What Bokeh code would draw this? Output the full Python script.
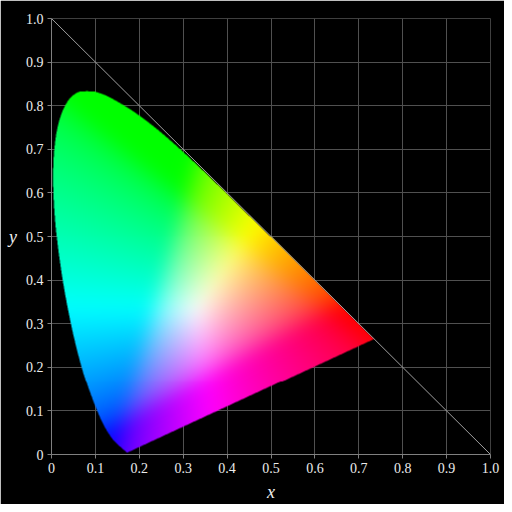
import numpy as np
from bokeh.plotting import figure
from bokeh.models import FixedTicker, Range1d
from bokeh.embed import file_html
from bokeh.resources import INLINE

# CIE 1931 2-degree spectral locus chromaticities (380..700 nm)
wavelengths = [380, 385, 390, 395, 400, 405, 410, 415, 420, 425, 430, 435, 440, 445,
               450, 455, 460, 465, 470, 475, 480, 485, 490, 495, 500, 505, 510, 515,
               520, 525, 530, 535, 540, 545, 550, 555, 560, 565, 570, 575, 580, 585,
               590, 595, 600, 605, 610, 615, 620, 625, 630, 635, 640, 645, 650, 655,
               660, 665, 670, 675, 680, 690, 700]
locus_x = [0.1741, 0.1740, 0.1738, 0.1736, 0.1733, 0.1730, 0.1726, 0.1721, 0.1714, 0.1703,
           0.1689, 0.1669, 0.1644, 0.1611, 0.1566, 0.1510, 0.1440, 0.1355, 0.1241, 0.1096,
           0.0913, 0.0687, 0.0454, 0.0235, 0.0082, 0.0039, 0.0139, 0.0389, 0.0743, 0.1142,
           0.1547, 0.1929, 0.2296, 0.2658, 0.3016, 0.3373, 0.3731, 0.4087, 0.4441, 0.4788,
           0.5125, 0.5448, 0.5752, 0.6029, 0.6270, 0.6482, 0.6658, 0.6801, 0.6915, 0.7006,
           0.7079, 0.7140, 0.7190, 0.7230, 0.7260, 0.7283, 0.7300, 0.7311, 0.7320, 0.7327,
           0.7334, 0.7344, 0.7347]
locus_y = [0.0050, 0.0050, 0.0049, 0.0049, 0.0048, 0.0048, 0.0048, 0.0048, 0.0051, 0.0058,
           0.0069, 0.0086, 0.0109, 0.0138, 0.0177, 0.0227, 0.0297, 0.0399, 0.0578, 0.0868,
           0.1327, 0.2007, 0.2950, 0.4127, 0.5384, 0.6548, 0.7502, 0.8120, 0.8338, 0.8262,
           0.8059, 0.7816, 0.7543, 0.7243, 0.6923, 0.6589, 0.6245, 0.5896, 0.5547, 0.5202,
           0.4866, 0.4544, 0.4242, 0.3965, 0.3725, 0.3514, 0.3340, 0.3197, 0.3083, 0.2993,
           0.2920, 0.2859, 0.2809, 0.2770, 0.2740, 0.2717, 0.2700, 0.2689, 0.2680, 0.2673,
           0.2666, 0.2656, 0.2653]
tick_values = [0.0, 0.1, 0.2, 0.3, 0.4, 0.5, 0.6, 0.7, 0.8, 0.9, 1.0]
tick_labels = ["0", "0.1", "0.2", "0.3", "0.4", "0.5", "0.6", "0.7", "0.8", "0.9", "1.0"]
diag_x = [0.0, 1.0]
diag_y = [1.0, 0.0]

# ---- smooth boundary through the locus points (Catmull-Rom rendering) ----
P = np.column_stack([locus_x, locus_y])
P = np.vstack([P[0], P, P[-1]])
bx, by = [], []
for i in range(1, len(P) - 2):
    p0, p1, p2, p3 = P[i - 1], P[i], P[i + 1], P[i + 2]
    for t in np.linspace(0, 1, 12, endpoint=False):
        t2, t3 = t * t, t * t * t
        pt = 0.5 * ((2 * p1) + (-p0 + p2) * t + (2 * p0 - 5 * p1 + 4 * p2 - p3) * t2
                    + (-p0 + 3 * p1 - 3 * p2 + p3) * t3)
        bx.append(pt[0])
        by.append(pt[1])
bx.append(P[-2][0])
by.append(P[-2][1])
px = np.asarray(bx)
py = np.asarray(by)

N = 439


def inside(gx, gy):
    res = np.zeros(gx.shape, dtype=bool)
    n = len(px)
    j = n - 1
    for i in range(n):
        xi, yi, xj, yj = px[i], py[i], px[j], py[j]
        if yi == yj:
            j = i
            continue
        cond = ((yi > gy) != (yj > gy))
        xint = (xj - xi) * (gy - yi) / (yj - yi) + xi
        res ^= cond & (gx < xint)
        j = i
    return res


cent = (np.arange(N) + 0.5) / N
GX, GY = np.meshgrid(cent, cent)
alpha = np.zeros((N, N))
for ox in (-0.25, 0.25):
    for oy in (-0.25, 0.25):
        alpha += inside(GX + ox / N, GY + oy / N)
alpha /= 4.0

# ---- colours: xy -> XYZ (Y=1) -> linear sRGB, white at E, max-normalised ----
yy = np.maximum(GY, 2e-3)
X = GX / yy
Y = np.ones_like(GX)
Z = np.maximum(1 - GX - GY, 0) / yy
M = np.array([[3.2406, -1.5372, -0.4986],
              [-0.9689, 1.8758, 0.0415],
              [0.0557, -0.2040, 1.0570]])
wE = M @ np.array([1.0, 1.0, 1.0])
R = (M[0, 0] * X + M[0, 1] * Y + M[0, 2] * Z) / wE[0]
G = (M[1, 0] * X + M[1, 1] * Y + M[1, 2] * Z) / wE[1]
B = (M[2, 0] * X + M[2, 1] * Y + M[2, 2] * Z) / wE[2]
RGB = np.stack([R, G, B], axis=-1)
RGB = np.clip(RGB, 0, None)
mx = RGB.max(axis=-1, keepdims=True)
mx[mx == 0] = 1
RGB = np.clip(RGB / mx, 0, 1)
RGB = np.where(RGB <= 0.0031308, 12.92 * RGB, 1.055 * np.power(RGB, 1 / 2.4) - 0.055)

# soften the creases of max-normalisation
sigma = 9.0
rad = int(3 * sigma)
k = np.exp(-0.5 * (np.arange(-rad, rad + 1) / sigma) ** 2)
k /= k.sum()
for axis in (0, 1):
    pad = [(0, 0)] * 3
    pad[axis] = (rad, rad)
    A = np.pad(RGB, pad, mode="edge")
    out = np.zeros_like(RGB)
    for s, w in enumerate(k):
        if axis == 0:
            out += w * A[s:s + N]
        else:
            out += w * A[:, s:s + N]
    RGB = out

RGB8 = (np.clip(RGB, 0, 1) * 255).round().astype(np.uint32)
A8 = (alpha * 255).round().astype(np.uint32)
img = ((A8 << 24) | (RGB8[..., 2] << 16) | (RGB8[..., 1] << 8) | RGB8[..., 0]).astype(np.uint32)

# ---- figure ----
p = figure(width=504, height=504, output_backend="svg", toolbar_location=None,
           x_range=Range1d(0, 1), y_range=Range1d(0, 1),
           min_border_left=51, min_border_right=14, min_border_top=18, min_border_bottom=47)
p.background_fill_color = "black"
p.border_fill_color = "black"
p.outline_line_color = None

p.image_rgba(image=[img], x=0, y=0, dw=1, dh=1)
p.line(diag_x, diag_y, line_color="#a0a0a0", line_width=1)

for ax in (p.xaxis, p.yaxis):
    ax.ticker = FixedTicker(ticks=tick_values)
    ax.major_label_overrides = {v: s for v, s in zip(tick_values, tick_labels)}
    ax.axis_line_color = "#808080"
    ax.major_tick_line_color = "#808080"
    ax.major_tick_in = 0
    ax.major_tick_out = 4
    ax.minor_tick_line_color = None
    ax.major_label_text_color = "#ececec"
    ax.major_label_text_font = "Liberation Serif"
    ax.major_label_text_font_size = "14px"
    ax.major_label_standoff = 4
    ax.axis_label_text_color = "#f0f0f0"
    ax.axis_label_text_font = "Liberation Serif"
    ax.axis_label_text_font_style = "italic"
    ax.axis_label_text_font_size = "18px"

p.xaxis.axis_label = "x"
p.yaxis.axis_label = "y"
p.xaxis.axis_label_standoff = 6
p.yaxis.axis_label_standoff = 6
p.yaxis.axis_label_orientation = "horizontal"

for g in (p.xgrid, p.ygrid):
    g.ticker = FixedTicker(ticks=tick_values)
    g.grid_line_color = "#505050"
    g.grid_line_width = 1

open("out.html", "w").write(file_html(p, INLINE))
